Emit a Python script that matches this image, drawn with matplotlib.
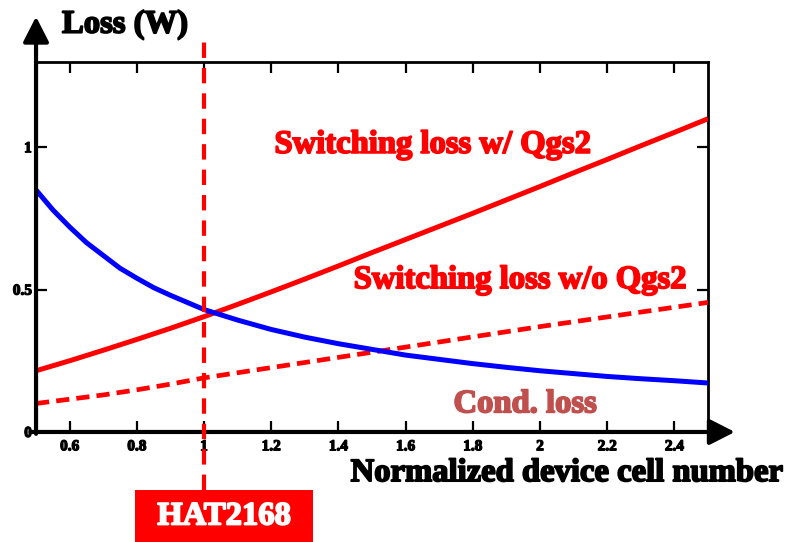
import numpy as np
from matplotlib import pyplot as plt
from matplotlib.patches import Rectangle
import matplotlib.patheffects as pe

# Loss curves versus normalized device cell number
cell_x = [0.5, 0.6, 0.7, 0.8, 0.9, 1.0, 1.1, 1.2, 1.3, 1.4, 1.5,
          1.6, 1.7, 1.8, 1.9, 2.0, 2.1, 2.2, 2.3, 2.4, 2.5]
sw_with_qgs2 = [0.215, 0.25, 0.287, 0.325, 0.364, 0.405, 0.448, 0.492, 0.537, 0.583, 0.63,
                0.676, 0.722, 0.768, 0.815, 0.862, 0.91, 0.957, 1.005, 1.052, 1.10]
sw_without_qgs2 = [0.10, 0.115, 0.13, 0.148, 0.168, 0.19, 0.208, 0.226, 0.244, 0.262, 0.28,
                   0.298, 0.316, 0.334, 0.352, 0.37, 0.387, 0.404, 0.421, 0.438, 0.455]

cond_x = [0.5, 0.55, 0.6, 0.65, 0.7, 0.75, 0.8, 0.85, 0.9, 0.95, 1.0, 1.1, 1.2, 1.3,
          1.4, 1.5, 1.6, 1.7, 1.8, 1.9, 2.0, 2.1, 2.2, 2.3, 2.4, 2.5]
cond_loss = [0.85, 0.78, 0.72, 0.665, 0.62, 0.575, 0.54, 0.507, 0.48, 0.455, 0.43, 0.393,
             0.36, 0.333, 0.31, 0.29, 0.27, 0.255, 0.24, 0.227, 0.215, 0.205, 0.195,
             0.187, 0.18, 0.172]

x_ticks = [0.6, 0.8, 1.0, 1.2, 1.4, 1.6, 1.8, 2.0, 2.2, 2.4]
x_tick_labels = ['0.6', '0.8', '1', '1.2', '1.4', '1.6', '1.8', '2', '2.2', '2.4']
y_ticks = [0, 0.5, 1.0]
y_tick_labels = ['0', '0.5', '1']

hat_x = 1.0
hat_name = 'HAT2168'

RED = '#ff0000'
BLUE = '#0000ff'
BROWN = '#c0504d'
SERIF = 'Liberation Serif'
FS = 23.5


def heavy(color, w=1.3):
    # thicken glyphs so the serif face reads as bold
    return [pe.withStroke(linewidth=w, foreground=color)]


fig = plt.figure(figsize=(7.85, 5.42), dpi=100)
ax = fig.add_axes([0.0459, 0.203, 0.856, 0.683])
ax.set_xlim(0.5, 2.5)
ax.set_ylim(0, 1.3)

ax.plot(cell_x, sw_with_qgs2, color=RED, lw=3.6, solid_capstyle='butt', zorder=3)
ax.plot(cell_x, sw_without_qgs2, color=RED, lw=3.4, dashes=(2.8, 1.5), zorder=3)
ax.plot(cond_x, cond_loss, color=BLUE, lw=3.6, solid_capstyle='butt', zorder=3)

# device marker line, running past the frame
ax.axvline(hat_x, ymin=-0.157, ymax=1.056, color=RED, lw=3.0,
           dashes=(3.7, 2.4), clip_on=False, zorder=4)

# frame: thin top/right, arrows for the left/bottom axes
for side in ['top', 'right']:
    ax.spines[side].set_linewidth(2.0)
for side in ['left', 'bottom']:
    ax.spines[side].set_visible(False)
arrow = dict(arrowstyle='-|>,head_length=0.55,head_width=0.28', lw=3.0,
             color='black', mutation_scale=28, shrinkA=0, shrinkB=0)
ax.annotate('', xy=(0, 1.122), xytext=(0, -0.005), xycoords='axes fraction',
            arrowprops=arrow, annotation_clip=False)
ax.annotate('', xy=(1.040, 0), xytext=(-0.008, 0), xycoords='axes fraction',
            arrowprops=arrow, annotation_clip=False)

ax.set_xticks(x_ticks)
ax.set_xticklabels(x_tick_labels)
ax.set_yticks(y_ticks)
ax.set_yticklabels(y_tick_labels)
ax.tick_params(direction='in', top=True, right=True, length=8, width=1.6, pad=6)
for lab in ax.get_xticklabels() + ax.get_yticklabels():
    lab.set_fontfamily(SERIF)
    lab.set_fontweight('bold')
    lab.set_fontsize(11)
    lab.set_path_effects(heavy('black', 0.9))
ax.tick_params(axis='y', pad=3)

# curve labels
ax.text(1.68, 1.01, 'Switching loss w/ Qgs2', color=RED, fontsize=FS,
        family=SERIF, weight='bold', ha='center', va='center', path_effects=heavy(RED))
ax.text(1.94, 0.535, 'Switching loss w/o Qgs2', color=RED, fontsize=FS,
        family=SERIF, weight='bold', ha='center', va='center', path_effects=heavy(RED))
ax.text(1.955, 0.099, 'Cond. loss', color=BROWN, fontsize=FS,
        family=SERIF, weight='bold', ha='center', va='center', path_effects=heavy(BROWN))

# axis titles
fig.text(0.079, 0.955, 'Loss (W)', fontsize=FS, family=SERIF, weight='bold',
         ha='left', va='center', path_effects=heavy('black'))
fig.text(0.997, 0.128, 'Normalized device cell number', fontsize=FS,
         family=SERIF, weight='bold', ha='right', va='center', path_effects=heavy('black'))

# device name tag
fig.add_artist(Rectangle((0.172, 0.0), 0.227, 0.096, transform=fig.transFigure,
                         facecolor=RED, edgecolor='none'))
fig.text(0.2855, 0.048, hat_name, color='white', fontsize=FS, family=SERIF,
         weight='bold', ha='center', va='center', path_effects=heavy('white'))

fig.savefig('out.png', dpi=100)
